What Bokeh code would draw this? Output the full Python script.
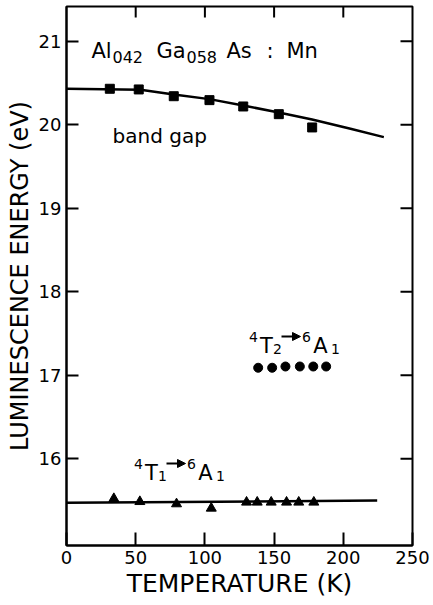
from bokeh.plotting import figure
from bokeh.models import Range1d, FixedTicker, Label, Arrow, NormalHead
from bokeh.embed import file_html
from bokeh.resources import INLINE

# ---- data ----
bg_T = [31.3, 52.2, 77.5, 103.3, 127.7, 153.4, 177.5]
bg_E = [2.0430, 2.0422, 2.0341, 2.0294, 2.0218, 2.0126, 1.9967]
bg_fit_T = [0.0, 53.5, 77.5, 103.3, 127.7, 153.4, 177.5, 205.2, 229.3]
bg_fit_E = [2.0430, 2.0418, 2.0362, 2.0306, 2.0230, 2.0146, 2.0063, 1.9951, 1.9851]
t2_T = [138.5, 148.6, 158.2, 168.6, 178.3, 187.6]
t2_E = [1.7090, 1.7090, 1.7105, 1.7105, 1.7105, 1.7105]
t1_T = [34.2, 53.0, 79.5, 104.6, 130.1, 137.8, 147.9, 159.0, 167.8, 178.7]
t1_E = [1.5523, 1.5487, 1.5460, 1.5408, 1.5480, 1.5480, 1.5480, 1.5480, 1.5480, 1.5480]
t1_fit_T = [0.0, 224.5]
t1_fit_E = [1.5473, 1.5501]
x_ticks = [0, 50, 100, 150, 200, 250]
y_ticks = [1.6, 1.7, 1.8, 1.9, 2.0, 2.1]
y_tick_labels = ["16", "17", "18", "19", "20", "21"]

X0, X1 = 0.0, 250.0
Y0, Y1 = 1.4962, 2.1415
W, H = 433, 605
FL, FR, FT, FB = 66, 412, 6, 545  # frame edges in pixels

FONT = "DejaVu Sans"

p = figure(width=W, height=H, output_backend="svg", toolbar_location=None,
           x_range=Range1d(X0, X1), y_range=Range1d(Y0, Y1),
           min_border_left=FL, min_border_right=W - FR,
           min_border_top=FT, min_border_bottom=H - FB,
           x_axis_label="TEMPERATURE (K)",
           y_axis_label="LUMINESCENCE ENERGY (eV)")
p.grid.visible = False
p.background_fill_color = "white"
p.border_fill_color = "white"
p.outline_line_color = "black"
p.outline_line_width = 2

def px_x(px):
    return X0 + (px - FL) / (FR - FL) * (X1 - X0)

def px_y(py):
    return Y1 - (py - FT) / (FB - FT) * (Y1 - Y0)

# axes
xa = p.xaxis[0]
xa.ticker = FixedTicker(ticks=x_ticks)
ya = p.yaxis[0]
ya.ticker = FixedTicker(ticks=y_ticks)
ya.major_label_overrides = {t: l for t, l in zip(y_ticks, y_tick_labels)}
for ax in (xa, ya):
    ax.axis_line_width = 2
    ax.axis_line_color = "black"
    ax.major_tick_line_width = 2
    ax.major_tick_line_color = "black"
    ax.major_tick_out = 0
    ax.minor_tick_out = 0
    ax.minor_tick_in = 0
    ax.major_label_text_font = FONT
    ax.major_label_text_font_size = "18px"
    ax.major_label_text_color = "black"
    ax.axis_label_text_font = FONT
    ax.axis_label_text_font_style = "normal"
    ax.axis_label_text_color = "black"
xa.major_tick_in = 13
ya.major_tick_in = 12
xa.major_label_standoff = 5
ya.major_label_standoff = 5
xa.axis_label_text_font_size = "25px"
ya.axis_label_text_font_size = "24px"
xa.axis_label_standoff = 2
ya.axis_label_standoff = 2

# inward ticks on the top and right frame edges
top_t = x_ticks[1:-1]
tick_dy = 11 / (FB - FT) * (Y1 - Y0)
p.segment(x0=top_t, y0=[Y1] * len(top_t), x1=top_t, y1=[Y1 - tick_dy] * len(top_t),
          line_color="black", line_width=2)
tick_dx = 12 / (FR - FL) * (X1 - X0)
p.segment(x0=[X1] * len(y_ticks), y0=y_ticks, x1=[X1 - tick_dx] * len(y_ticks), y1=y_ticks,
          line_color="black", line_width=2)

# data marks
p.line(bg_fit_T, bg_fit_E, line_color="black", line_width=2.5)
p.scatter(bg_T, bg_E, marker="square", size=9, color="black")
p.scatter(t2_T, t2_E, marker="circle", size=9, color="black")
p.line(t1_fit_T, t1_fit_E, line_color="black", line_width=2.5)
p.scatter(t1_T, t1_E, marker="triangle", size=10, color="black")

def lab(text, px, py, size, align="center"):
    p.add_layout(Label(x=px_x(px), y=px_y(py), text=text, text_font=FONT,
                       text_font_size=f"{size}px", text_color="black",
                       text_align=align, text_baseline="alphabetic"))

# compound label
lab("Al", 91, 50, 21, "left")
lab("042", 112, 56, 16, "left")
lab("Ga", 156, 50, 21, "left")
lab("058", 186, 56, 16, "left")
lab("As", 226, 50, 21, "left")
lab(":", 266, 50, 21, "left")
lab("Mn", 286, 50, 21, "left")

lab("band gap", 112, 135, 20, align="left")

def transition(level, x0, y0):
    lab("4", x0 + 3, y0 - 9, 14)
    lab("T", x0 + 16, y0, 21)
    lab(level, x0 + 27, y0 + 3, 14)
    p.add_layout(Arrow(x_start=px_x(x0 + 31), y_start=px_y(y0 - 9),
                       x_end=px_x(x0 + 50), y_end=px_y(y0 - 9),
                       line_width=2, line_color="black",
                       end=NormalHead(size=8, fill_color="black", line_color="black")))
    lab("6", x0 + 56, y0 - 9, 14)
    lab("A", x0 + 70, y0, 21)
    lab("1", x0 + 85, y0 + 3, 14)

transition("1", 135, 472)
transition("2", 250, 345)

open("out.html", "w").write(file_html(p, INLINE))
